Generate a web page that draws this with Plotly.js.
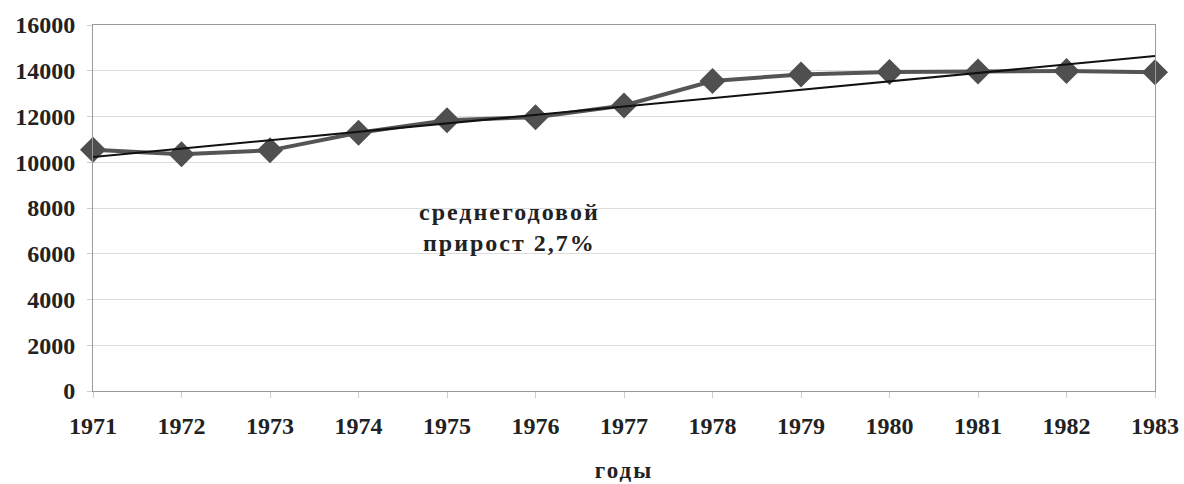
<!DOCTYPE html>
<html>
<head>
<meta charset="utf-8">
<script src="https://cdn.plot.ly/plotly-3.0.1.min.js"></script>
<style>
html,body{margin:0;padding:0;background:#fff;}
#chart{width:1184px;height:484px;}
#chart .annotation-text{letter-spacing:2px;}
#chart .g-xtitle text{letter-spacing:2px;}
</style>
</head>
<body>
<div id="chart"></div>
<script>
var years = [1971,1972,1973,1974,1975,1976,1977,1978,1979,1980,1981,1982,1983];
var values = [10550,10350,10520,11290,11840,11970,12480,13550,13840,13940,13970,13990,13930];
var trendYears = [1971,1983];
var trendValues = [10230,14640];
var yTicks = [0,2000,4000,6000,8000,10000,12000,14000,16000];
var annotationText = "среднегодовой<br>прирост 2,7%";
var xTitle = "годы";

var fontFam = "'Liberation Serif', 'DejaVu Serif', serif";

var traces = [
  {x: years, y: values, type: "scatter", mode: "lines+markers",
   line: {color: "#555555", width: 4},
   marker: {symbol: "diamond", size: 20, color: "#4f4f4f"},
   hoverinfo: "skip", cliponaxis: false},
  {x: trendYears, y: trendValues, type: "scatter", mode: "lines",
   line: {color: "#111111", width: 2}, hoverinfo: "skip", cliponaxis: false}
];

var layout = {
  width: 1184, height: 484,
  margin: {l: 93, r: 29, t: 25, b: 93},
  paper_bgcolor: "#ffffff", plot_bgcolor: "#ffffff",
  showlegend: false,
  font: {family: fontFam, color: "#222222"},
  xaxis: {
    range: [1971, 1983], tickmode: "array", tickvals: years, ticktext: years.map(String),
    showgrid: false, zeroline: false,
    showline: true, linecolor: "#999999", linewidth: 1, mirror: true,
    ticks: "outside", ticklen: 6, tickcolor: "#cccccc", tickwidth: 1,
    ticklabelstandoff: 7,
    tickfont: {family: fontFam, size: 24, color: "#222222", weight: "bold"},
    title: {text: xTitle, standoff: 24, font: {family: fontFam, size: 23, color: "#222222", weight: "bold"}}
  },
  yaxis: {
    range: [0, 16000], tickmode: "array", tickvals: yTicks, ticktext: yTicks.map(String),
    showgrid: true, gridcolor: "#dddddd", gridwidth: 1, zeroline: false,
    showline: true, linecolor: "#999999", linewidth: 1, mirror: true,
    ticks: "outside", ticklen: 5, tickcolor: "#cccccc",
    ticklabelstandoff: 7,
    tickfont: {family: fontFam, size: 24, color: "#222222", weight: "bold"}
  },
  annotations: [{
    x: 1975.71, y: 7150, xref: "x", yref: "y", text: annotationText, showarrow: false,
    align: "center", font: {family: fontFam, size: 24, color: "#222222", weight: "bold"}
  }]
};

Plotly.newPlot("chart", traces, layout, {staticPlot: true, displayModeBar: false});
</script>
</body>
</html>
